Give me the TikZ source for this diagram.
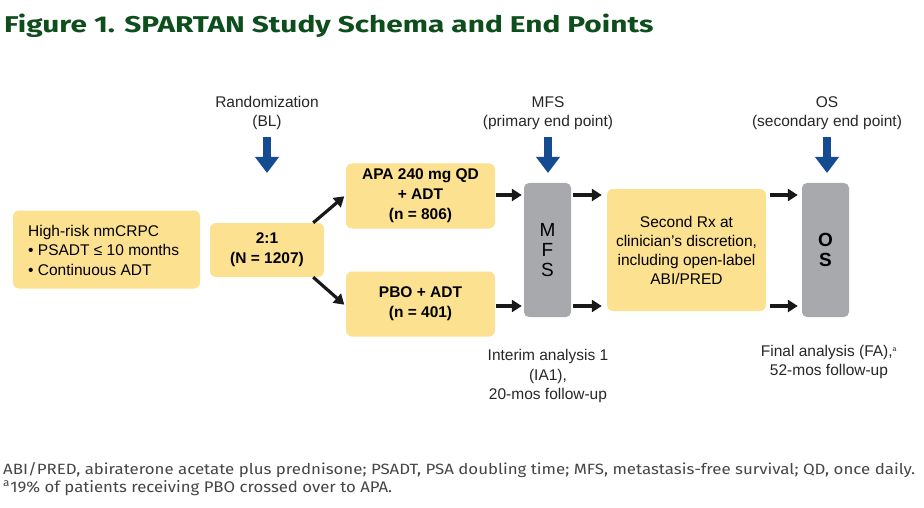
\documentclass[tikz,border=0pt]{standalone}
\usepackage{fontspec}
\setmainfont{Liberation Sans}
\newfontfamily\titlefont{Fira Sans}
\newfontfamily\notefont{Fira Sans}
\usetikzlibrary{arrows.meta,calc}
\definecolor{boxyellow}{RGB}{252,225,145}
\definecolor{boxgray}{RGB}{167,169,172}
\definecolor{arrowblue}{RGB}{20,75,145}
\definecolor{titlegreen}{RGB}{14,78,28}
\definecolor{txtgray}{RGB}{40,38,40}
\definecolor{notegray}{RGB}{70,70,72}
\definecolor{arrblack}{RGB}{25,25,28}
\tikzset{
  ybox/.style={draw=none,fill=boxyellow,rounded corners=6pt,inner sep=0pt,align=center,font=\fontsize{15.5}{19.5}\selectfont},
  gbox/.style={draw=none,fill=boxgray,rounded corners=5pt,inner sep=0pt,align=center,minimum width=47pt,minimum height=134pt},
  lbl/.style={align=center,inner sep=0pt,text=txtgray,font=\fontsize{15.5}{19.5}\selectfont},
  arr/.style={draw=arrblack,line width=3.2pt,-{Triangle[length=10pt,width=12pt]}},
  barr/.style={draw=arrowblue,line width=8.5pt,-{Triangle[length=16pt,width=23pt]}}
}
\begin{document}
\begin{tikzpicture}[x=1pt,y=-1pt]
\useasboundingbox[fill=white] (0,0) rectangle (924,508);
% title
\node[anchor=base west,inner sep=0pt,text=titlegreen] (title) at (4,33)
  {\resizebox{649pt}{18.5pt}{\titlefont\bfseries Figure 1. SPARTAN Study Schema and End Points}};
% boxes
\node[ybox,minimum width=187pt,minimum height=78pt] (pop) at (106.5,249.5) {};
\node[anchor=west,align=left,inner sep=0pt,font=\fontsize{15.5}{19.5}\selectfont] (poptxt) at (28,250)
  {High-risk nmCRPC\\\textbullet\ PSADT ≤ 10 months\\\textbullet\ Continuous ADT};
\node[ybox,minimum width=114pt,minimum height=54pt,font=\fontsize{15.5}{20}\selectfont\bfseries] (rand) at (267,250) {2:1\\(N = 1207)};
\node[ybox,minimum width=149pt,minimum height=65pt,font=\fontsize{15.5}{20}\selectfont\bfseries] (apa) at (420.5,196) {APA 240 mg QD\\+ ADT\\(n = 806)};
\node[ybox,minimum width=149pt,minimum height=65pt,font=\fontsize{15.5}{20}\selectfont\bfseries] (pbo) at (420.5,304) {PBO + ADT\\(n = 401)};
\node[gbox,font=\fontsize{19}{20}\selectfont] (mfs) at (547.5,250) {M\\F\\S};
\node[ybox,minimum width=159pt,minimum height=122pt,font=\fontsize{15.5}{19}\selectfont] (rx) at (686.5,250)
  {Second Rx at\\clinician’s discretion,\\including open-label\\ABI/PRED};
\node[gbox,font=\fontsize{19}{20}\selectfont\bfseries] (os) at (825.5,250) {O\\S};
% labels
\node[lbl] (lrand) at (267,113) {Randomization\\(BL)};
\node[lbl] (lmfs) at (548,113) {MFS\\(primary end point)};
\node[lbl] (los) at (827,113) {OS\\(secondary end point)};
\node[lbl] (lia) at (548,376) {Interim analysis 1\\(IA1),\\20-mos follow-up};
\node[lbl] (lfa) at (829,362) {Final analysis (FA),\textsuperscript{\fontsize{7}{7}\selectfont a}\\52-mos follow-up};
% blue arrows
\coordinate (brs) at (267,137); \coordinate (bre) at (267,173);
\coordinate (bms) at (548,137); \coordinate (bme) at (548,173);
\coordinate (bos) at (827,137); \coordinate (boe) at (827,173);
\draw[barr] (brs) -- (bre);
\draw[barr] (bms) -- (bme);
\draw[barr] (bos) -- (boe);
% black arrows
\draw[arr,shorten >=2pt] ([xshift=-11pt]rand.north east) -- ([yshift=1pt]apa.west);
\draw[arr,shorten >=2pt] ([xshift=-11pt]rand.south east) -- ([yshift=-2pt]pbo.west);
\draw[arr,shorten <=1pt,shorten >=2pt] ([yshift=1pt]apa.east) -- ([yshift=1pt]apa.east -| mfs.west);
\draw[arr,shorten <=1pt,shorten >=2pt] ([yshift=-2pt]pbo.east) -- ([yshift=-2pt]pbo.east -| mfs.west);
\draw[arr,shorten <=2pt,shorten >=5pt] ([yshift=1pt]mfs.east |- apa.east) -- ([yshift=1pt]rx.west |- apa.east);
\draw[arr,shorten <=2pt,shorten >=5pt] ([yshift=-2pt]mfs.east |- pbo.east) -- ([yshift=-2pt]rx.west |- pbo.east);
\draw[arr,shorten <=4pt,shorten >=4pt] ([yshift=1pt]rx.east |- apa.east) -- ([yshift=1pt]os.west |- apa.east);
\draw[arr,shorten <=4pt,shorten >=4pt] ([yshift=-2pt]rx.east |- pbo.east) -- ([yshift=-2pt]os.west |- pbo.east);
% footnotes
\node[anchor=base west,inner sep=0pt,text=notegray] (fn1) at (3,474)
  {\resizebox{912pt}{12pt}{\notefont ABI/PRED, abiraterone acetate plus prednisone; PSADT, PSA doubling time; MFS, metastasis-free survival; QD, once daily.}};
\node[anchor=base west,inner sep=0pt,text=notegray] (fn2) at (3,492)
  {\resizebox{389pt}{12pt}{\notefont \textsuperscript{a}19\% of patients receiving PBO crossed over to APA.}};
\end{tikzpicture}
\end{document}
